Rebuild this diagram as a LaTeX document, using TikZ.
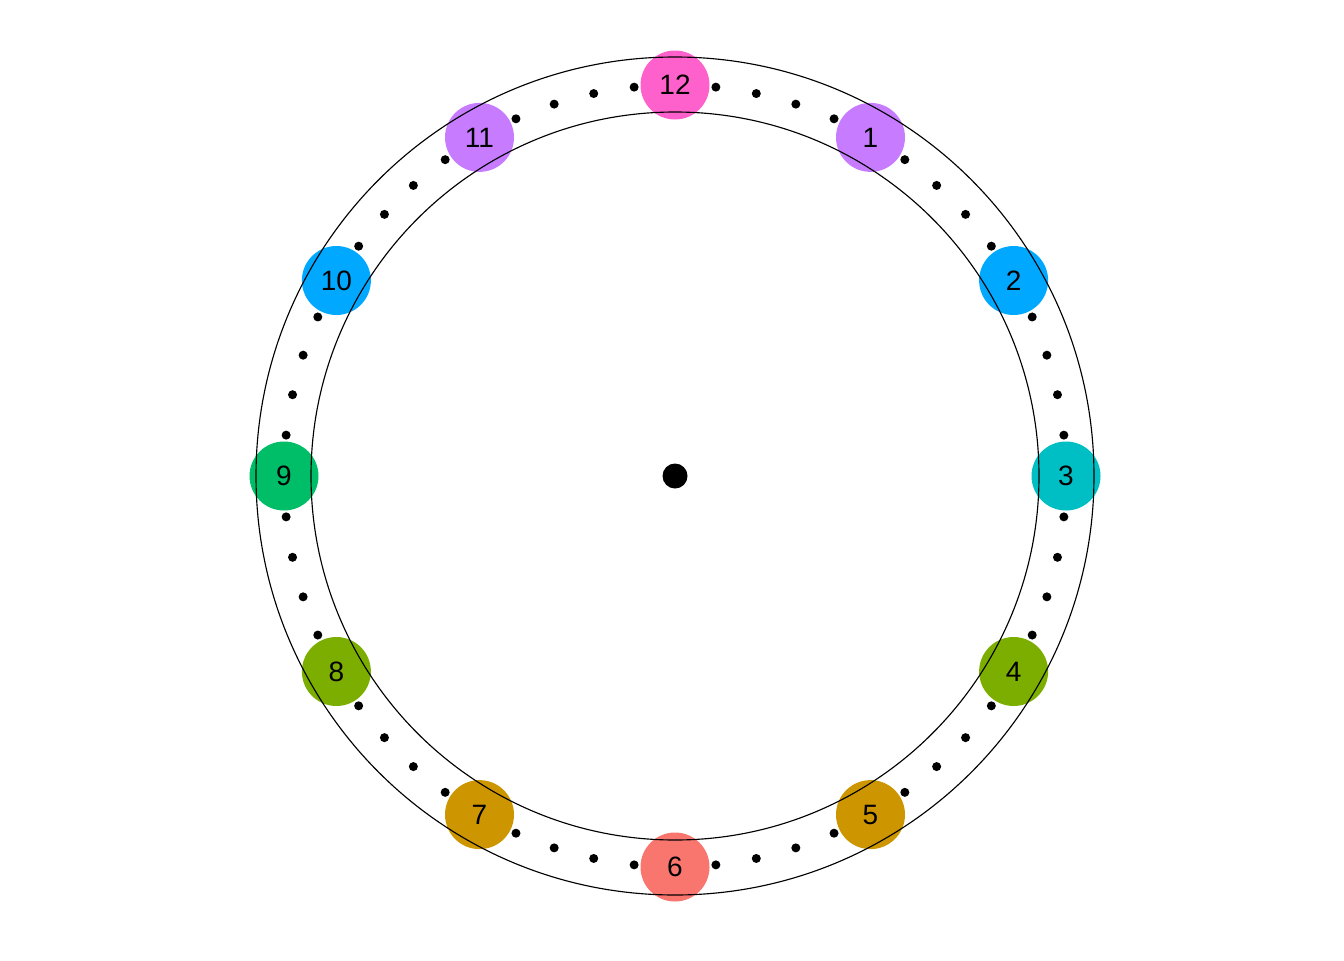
\documentclass[tikz,border=0pt]{standalone}
\usepackage{fontspec}
\setmainfont{Liberation Sans}
\definecolor{cA}{HTML}{F8766D}
\definecolor{cB}{HTML}{CD9600}
\definecolor{cC}{HTML}{7CAE00}
\definecolor{cD}{HTML}{00BE67}
\definecolor{cE}{HTML}{00BFC4}
\definecolor{cF}{HTML}{00A9FF}
\definecolor{cG}{HTML}{C77CFF}
\definecolor{cH}{HTML}{FF61CC}
\tikzset{
  hourdisc/.style={circle,inner sep=0pt,minimum size=51.75pt,font=\fontsize{21pt}{21pt}\selectfont},
  minutedot/.style={circle,fill=black,inner sep=0pt,minimum size=6.75pt},
  ring/.style={draw=black,line width=0.85pt},
}
\begin{document}
\begin{tikzpicture}[x=0.75pt,y=-0.75pt]
\useasboundingbox (0,0) rectangle (1344,960);
\coordinate (c) at (675,476);
% minute dots
\foreach \m in {1,...,59}{
  \pgfmathtruncatemacro{\r}{mod(\m,5)}
  \ifnum\r=0\else
    \node[minutedot] (m\m) at ({675+391*cos(90-6*\m)},{476-391*sin(90-6*\m)}) {};
  \fi
}
% hour discs
\foreach \h/\col in {1/cG,2/cF,3/cE,4/cC,5/cB,6/cA,7/cB,8/cC,9/cD,10/cF,11/cG,12/cH}{
  \fill[\col] ({675+391*cos(90-30*\h)},{476-391*sin(90-30*\h)}) circle[radius=34.5];
}
% rings
\draw[ring] (c) circle[radius=419];
\draw[ring] (c) circle[radius=364];
% labels
\foreach \h in {1,...,12}{
  \node[hourdisc] (h\h) at ({675+391*cos(90-30*\h)},{476-391*sin(90-30*\h)}) {\h};
}
\node[circle,fill=black,inner sep=0pt,minimum size=18.75pt] (center) at (c) {};
\end{tikzpicture}
\end{document}
